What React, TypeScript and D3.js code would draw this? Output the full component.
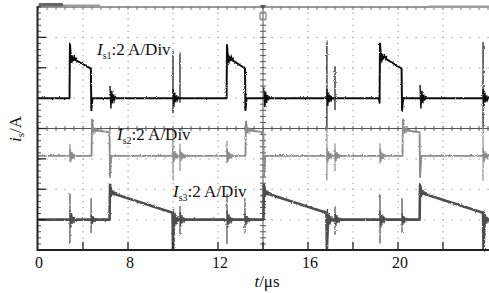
import React from "react";
import * as d3 from "d3";

const W = 489;
const H = 293;

// x ticks (µs positions on the scope grid) and their printed labels
const tickTimes = [4, 8, 12, 16, 20];
const tickLabels = ["0", "8", "12", "16", "20"];

// waveform breakpoints [t µs, current A]
const is1Wave: [number, number][] = [
  [4.0, 0], [5.4, 0], [5.42, 3.6], [5.47, 2.4], [5.56, 2.6], [6.35, 1.95], [6.37, -0.8], [6.42, 0],
  [12.38, 0], [12.4, 3.5], [12.45, 2.4], [12.54, 2.6], [13.2, 1.95], [13.22, -0.8], [13.27, 0],
  [19.15, 0], [19.18, -0.3], [19.2, 3.6], [19.25, 2.5], [19.34, 2.7], [20.16, 1.95], [20.18, -0.8], [20.23, 0], [24.0, 0],
];
const is2Wave: [number, number][] = [
  [4.0, 0], [6.38, 0], [6.4, 2.4], [6.46, 1.7], [7.18, 1.55], [7.2, -1.4], [7.26, 0],
  [13.22, 0], [13.24, 2.3], [13.3, 1.7], [14.02, 1.55], [14.04, -1.4], [14.1, 0],
  [20.2, 0], [20.22, 2.4], [20.28, 1.7], [20.96, 1.55], [20.98, -1.4], [21.04, 0], [24.0, 0],
];
const is3Wave: [number, number][] = [
  [4.0, 0], [7.18, 0], [7.2, 2.3], [7.27, 1.75], [9.98, 0.45], [10.0, -2.0], [10.05, 0],
  [14.02, 0], [14.04, 2.3], [14.11, 1.75], [16.82, 0.45], [16.84, -2.0], [16.89, 0],
  [20.96, 0], [20.98, 2.3], [21.05, 1.75], [23.78, 0.45], [23.8, -2.0], [23.85, 0], [24.0, 0],
];

// switching spikes [t µs, low A, high A]
const is1Spikes: [number, number, number][] = [
  [10.0, -1.0, 3.1], [10.31, -0.3, 3.0], [16.84, -2.0, 3.8], [17.2, -0.8, 2.1], [23.78, -2.0, 3.7],
];
const is2Spikes: [number, number, number][] = [
  [5.42, -0.4, 0.8], [10.0, -1.6, 2.0], [10.31, -1.0, 0.8], [12.4, -0.5, 1.0], [16.84, -1.6, 2.0],
  [17.2, -1.0, 0.8], [19.2, -0.5, 0.8], [23.78, -1.6, 2.0],
];
const is3Spikes: [number, number, number][] = [
  [5.42, -1.6, 1.7], [6.36, -0.9, 1.4], [10.31, -1.0, 0.9], [12.4, -1.6, 1.7], [13.2, -0.9, 1.4],
  [17.2, -1.0, 0.9], [19.2, -1.6, 1.7], [20.18, -0.9, 1.4],
];

// ringing bursts [t µs, centre A, half height A]
const is1Bursts: [number, number, number][] = [
  [5.46, 2.6, 0.35], [7.2, 0, 0.8], [10.0, 0, 0.6], [12.44, 2.6, 0.35], [14.04, 0, 0.7],
  [16.84, 0, 0.6], [19.24, 2.7, 0.35], [20.98, 0, 0.8], [23.78, 0, 0.6],
];
const is2Bursts: [number, number, number][] = [
  [5.42, 0, 0.45], [6.42, 1.7, 0.25], [10.0, 0, 0.5], [10.31, 0, 0.4], [12.4, 0, 0.45], [13.26, 1.7, 0.25],
  [16.84, 0, 0.5], [17.2, 0, 0.4], [19.2, 0, 0.45], [20.24, 1.7, 0.25], [23.78, 0, 0.5],
];
const is3Bursts: [number, number, number][] = [
  [5.42, 0, 0.6], [6.36, 0, 0.4], [7.22, 1.75, 0.3], [10.02, 0, 0.7], [10.31, 0, 0.5], [12.4, 0, 0.6],
  [13.2, 0, 0.4], [14.06, 1.75, 0.3], [16.86, 0, 0.7], [17.2, 0, 0.5], [19.2, 0, 0.6], [20.18, 0, 0.4],
  [21.0, 1.75, 0.3], [23.8, 0, 0.6],
];

const channelNames = ["s1", "s2", "s3"];
const channelOffsets = [10, 6.2, 2]; // scope zero level of each channel, in A (2 A/div)
const channelColors = ["#111111", "#8c8c8c", "#4d4d4d"];
const channelWidths = [2.0, 1.9, 2.6];

const x = d3.scaleLinear().domain([4, 24]).range([38, 488]);
const y = d3.scaleLinear().domain([0, 16]).range([250, 7]);

const serif = "Liberation Serif, DejaVu Serif, serif";

// damped ringing glyph: alternating amplitude factors and horizontal step (px)
const ringFactors = [1, -0.85, 0.6, -0.45, 0.3, -0.2, 0.1, 0];
const ringStep = 0.9;

export default function App() {
  const waves = [is1Wave, is2Wave, is3Wave];
  const spikes = [is1Spikes, is2Spikes, is3Spikes];
  const bursts = [is1Bursts, is2Bursts, is3Bursts];

  const divX = d3.range(0, 11).map((d) => x(4 + 2 * d));
  const divY = d3.range(0, 9).map((d) => y(2 * d));
  const minorX = d3.range(0, 51).map((d) => x(4 + 0.4 * d));
  const minorY = d3.range(0, 41).map((d) => y(0.4 * d));
  const cx = x(14);
  const cy = y(8);

  const labelPos: [number, number][] = [
    [97, 55],
    [117, 140],
    [173, 197],
  ];

  return (
    <svg width={W} height={H} style={{ display: "block", position: "absolute", left: 0, top: 0, background: "#fff" }}>
      <defs>
        <filter id="fz" filterUnits="userSpaceOnUse" x="0" y="0" width={W} height={H}>
          <feTurbulence type="fractalNoise" baseFrequency="1.1" numOctaves="1" seed="3" result="n" />
          <feDisplacementMap in="SourceGraphic" in2="n" scale="2.6" xChannelSelector="R" yChannelSelector="G" />
        </filter>
      </defs>
      <rect width={W} height={H} fill="#fff" />

      {/* dotted grid */}
      <g fill="#a0a0a0">
        {divY.slice(1, 8).filter((_, i) => i !== 3).map((yy, i) =>
          minorX.map((xx, j) => <rect key={`h${i}-${j}`} x={xx - 0.5} y={yy - 0.5} width={1.2} height={1.2} />)
        )}
        {divX.slice(1, 10).filter((_, i) => i !== 4).map((xx, i) =>
          minorY.map((yy, j) => <rect key={`v${i}-${j}`} x={xx - 0.5} y={yy - 0.5} width={1.2} height={1.2} />)
        )}
      </g>

      {/* centre cross */}
      <g stroke="#555" strokeWidth={1}>
        <line x1={38} x2={489} y1={cy} y2={cy} />
        {minorX.map((xx, j) => <line key={`ct${j}`} x1={xx} x2={xx} y1={cy - 2.5} y2={cy + 2.5} />)}
        <line x1={cx} x2={cx} y1={7} y2={250} />
        {minorY.map((yy, j) => <line key={`cv${j}`} x1={cx - 3} x2={cx + 3} y1={yy} y2={yy} />)}
      </g>

      {/* top border */}
      <g stroke="#777">
        <line x1={38} x2={489} y1={7} y2={7} strokeWidth={1.3} />
        {minorX.map((xx, j) => <line key={`tt${j}`} x1={xx} x2={xx} y1={7} y2={10} strokeWidth={1} />)}
      </g>
      <rect x={38} y={4.5} width={62} height={2.5} fill="#9a9a9a" />
      <rect x={39} y={3} width={24} height={3.5} fill="#666" />
      <rect x={428} y={5.5} width={61} height={2.5} fill="#9a9a9a" />
      {/* trigger marker */}
      <path d={`M${cx - 3},5 L${cx + 3},5 L${cx},9 Z`} fill="#555" />
      <rect x={cx - 3} y={12} width={6} height={8} rx={2} fill="none" stroke="#999" strokeWidth={1.5} />

      {/* traces */}
      {waves.map((wave, c) => {
        const off = channelOffsets[c];
        const line = d3
          .line<[number, number]>()
          .x((d) => x(d[0]))
          .y((d) => y(off + d[1]));
        return (
          <g key={`ch${c}`} filter="url(#fz)">
            {bursts[c].map(([t, m, a], k) => {
              const h = Math.abs(y(off) - y(off + a));
              const x0 = x(t);
              const y0 = y(off + m);
              const d = ringFactors
                .map((f, i) => `${i === 0 ? "M" : "L"}${x0 + i * ringStep},${y0 - f * h}`)
                .join(" ");
              return <path key={`b${k}`} d={d} fill="none" stroke={channelColors[c]} strokeWidth={1.4} />;
            })}
            {spikes[c].map(([t, lo, hi], k) => (
              <line key={`s${k}`} x1={x(t)} x2={x(t)} y1={y(off + lo)} y2={y(off + hi)} stroke={channelColors[c]} strokeWidth={1.2} />
            ))}
            <path d={line(wave) || ""} fill="none" stroke={channelColors[c]} strokeWidth={channelWidths[c]} strokeLinejoin="round" />
          </g>
        );
      })}

      {/* axes */}
      <g stroke="#222">
        <line x1={37.5} x2={37.5} y1={6} y2={251} strokeWidth={2} />
        <line x1={37} x2={489} y1={250} y2={250} strokeWidth={2} />
        {divY.slice(1, 8).map((yy, i) => <line key={`ly${i}`} x1={38} x2={46} y1={yy} y2={yy} strokeWidth={1.3} />)}
        {minorY.map((yy, i) => <line key={`lm${i}`} x1={38} x2={41} y1={yy} y2={yy} strokeWidth={0.8} />)}
        {divX.slice(1, 10).map((xx, i) => <line key={`bx${i}`} x1={xx} x2={xx} y1={242} y2={250} strokeWidth={1.3} />)}
      </g>

      {/* tick labels */}
      <g fontFamily={serif} fontSize={16} fill="#111" textAnchor="middle">
        {tickTimes.map((t, i) => (
          <text key={`tl${i}`} x={x(t) + (i === 0 ? 1 : 2)} y={268}>{tickLabels[i]}</text>
        ))}
      </g>

      {/* axis titles */}
      <text x={267} y={287} fontFamily={serif} fontSize={17} textAnchor="middle" fill="#111">
        <tspan fontStyle="italic">t</tspan>/μs
      </text>
      <text transform="translate(21,129) rotate(-90)" fontFamily={serif} fontSize={17} textAnchor="middle" fill="#111">
        <tspan fontStyle="italic">i</tspan>
        <tspan fontSize={11} dy={3}>s</tspan>
        <tspan dy={-3}>/A</tspan>
      </text>

      {/* channel labels */}
      {channelNames.map((nm, c) => (
        <text key={`cl${c}`} x={labelPos[c][0]} y={labelPos[c][1]} fontFamily={serif} fontSize={17} fill="#111">
          <tspan fontStyle="italic">I</tspan>
          <tspan fontSize={10} dy={4}>{nm}</tspan>
          <tspan dy={-4}>:2 A/Div</tspan>
        </text>
      ))}
    </svg>
  );
}
